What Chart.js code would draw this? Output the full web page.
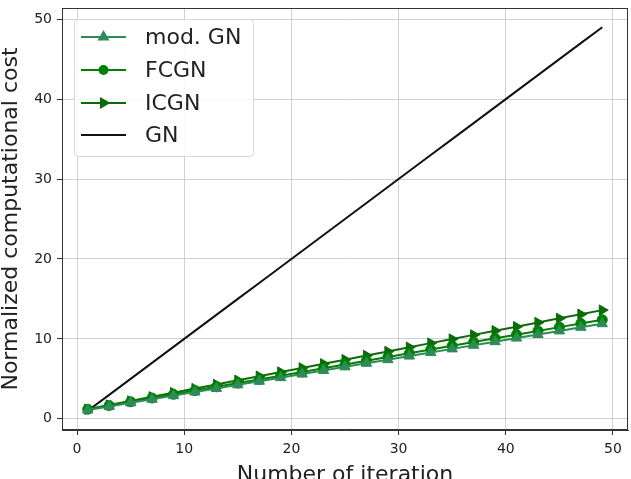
<!DOCTYPE html>
<html>
<head>
<meta charset="utf-8">
<script src="https://cdn.jsdelivr.net/npm/chart.js@4"></script>
<style>
	html, body { margin: 0; padding: 0; background: #fff; overflow: hidden; }
	#wrap { position: relative; width: 631px; height: 479px; }
</style>
</head>
<body>
<div id="wrap"><canvas id="chart"></canvas></div>
<script>
(function () {
	'use strict';

	// Iterations with markers (every other iteration).
	var ITERS = [1, 3, 5, 7, 9, 11, 13, 15, 17, 19, 21, 23, 25, 27, 29, 31, 33, 35, 37, 39, 41, 43, 45, 47, 49];

	// Normalized cost.
	var MOD_GN = [1.1, 1.55, 2.0, 2.45, 2.9, 3.35, 3.8, 4.25, 4.7, 5.15, 5.6, 6.05, 6.5, 6.95, 7.4, 7.85, 8.3, 8.75, 9.2, 9.65, 10.1, 10.55, 11.0, 11.45, 11.9];
	var FCGN   = [1.2, 1.67, 2.13, 2.6, 3.07, 3.53, 4.0, 4.47, 4.93, 5.4, 5.87, 6.33, 6.8, 7.27, 7.73, 8.2, 8.67, 9.13, 9.6, 10.07, 10.53, 11.0, 11.47, 11.93, 12.4];
	var ICGN   = [1.2, 1.72, 2.23, 2.75, 3.27, 3.78, 4.3, 4.82, 5.33, 5.85, 6.37, 6.88, 7.4, 7.92, 8.43, 8.95, 9.47, 9.98, 10.5, 11.02, 11.53, 12.05, 12.57, 13.08, 13.6];
	var GN     = [1, 3, 5, 7, 9, 11, 13, 15, 17, 19, 21, 23, 25, 27, 29, 31, 33, 35, 37, 39, 41, 43, 45, 47, 49];

	var X_TICKS = [0, 10, 20, 30, 40, 50];
	var Y_TICKS = [0, 10, 20, 30, 40, 50];

	var FONT = 'DejaVu Sans';

	function pts(ys) {
		return ITERS.map(function (x, i) { return { x: x, y: ys[i] }; });
	}

	var series = [
		{ label: 'mod. GN', data: MOD_GN, color: '#2e8b57', style: 'triangle', rot: 0, r: 6 },
		{ label: 'FCGN', data: FCGN, color: '#008000', style: 'circle', rot: 0, r: 5 },
		{ label: 'ICGN', data: ICGN, color: '#0b6b0b', style: 'triangle', rot: 90, r: 6 },
		{ label: 'GN', data: GN, color: '#111111', style: false, rot: 0, r: 0 }
	];

	var datasets = series.map(function (s) {
		return {
			label: s.label,
			data: pts(s.data),
			borderColor: s.color,
			backgroundColor: s.color,
			borderWidth: 2,
			pointStyle: s.style,
			pointRotation: s.rot,
			pointRadius: s.r,
			pointBorderWidth: 1,
			tension: 0
		};
	});

	// Frame round the plot area, like matplotlib spines.
	var framePlugin = {
		id: 'frame',
		afterDatasetsDraw: function (chart) {
			var a = chart.chartArea, c = chart.ctx;
			c.save();
			c.strokeStyle = '#333';
			c.lineWidth = 1;
			c.strokeRect(a.left + 0.5, a.top + 0.5, a.right - a.left - 1, a.bottom - a.top - 1);
			c.restore();
		}
	};

	// Legend box in the upper left corner of the plot.
	var legendPlugin = {
		id: 'boxLegend',
		afterDraw: function (chart) {
			var c = chart.ctx;
			var bx = 74, by = 19, bw = 179, bh = 137;
			c.save();
			c.fillStyle = 'rgba(255,255,255,0.85)';
			c.strokeStyle = '#d8d8d8';
			c.lineWidth = 1;
			c.beginPath();
			c.roundRect(bx + 0.5, by + 0.5, bw, bh, 4);
			c.fill();
			c.stroke();
			var rows = [37, 70, 103, 135];
			c.font = '22px ' + FONT;
			c.textBaseline = 'middle';
			series.forEach(function (s, i) {
				var y = rows[i];
				c.strokeStyle = s.color;
				c.lineWidth = 2;
				c.beginPath();
				c.moveTo(81, y);
				c.lineTo(126, y);
				c.stroke();
				if (s.style) {
					c.fillStyle = s.color;
					Chart.helpers.drawPoint(c, {
						pointStyle: s.style,
						rotation: s.rot,
						radius: s.r - 1,
						borderWidth: 1
					}, 103.5, y);
				}
				c.fillStyle = '#222';
				c.fillText(s.label, 145, y + 1);
			});
			c.restore();
		}
	};

	function tickSet(list) {
		return function (scale) {
			scale.ticks = list.map(function (v) { return { value: v }; });
		};
	}

	new Chart(document.getElementById('chart'), {
		type: 'line',
		data: { datasets: datasets },
		options: {
			responsive: true,
			maintainAspectRatio: false,
			animation: false,
			layout: { autoPadding: false, padding: { top: 8, right: 3, left: 0, bottom: 0 } },
			plugins: { legend: { display: false }, tooltip: { enabled: false } },
			scales: {
				x: {
					type: 'linear',
					min: -1.4,
					max: 51.4,
					afterBuildTicks: tickSet(X_TICKS),
					afterFit: function (s) { s.height = 49; s.paddingLeft = 0; s.paddingRight = 0; },
					grid: { color: '#d0d0d0', tickColor: '#333', tickLength: 5, lineWidth: 1 },
					border: { color: '#333' },
					ticks: { color: '#222', font: { family: FONT, size: 14 }, padding: 6 },
					title: { display: true, text: 'Number of iteration', color: '#222', font: { family: FONT, size: 22 }, padding: { top: 0, bottom: -9 } }
				},
				y: {
					type: 'linear',
					min: -1.4,
					max: 51.4,
					afterBuildTicks: tickSet(Y_TICKS),
					afterFit: function (s) { s.width = 62; s.paddingTop = 0; s.paddingBottom = 0; },
					grid: { color: '#d0d0d0', tickColor: '#333', tickLength: 5, lineWidth: 1 },
					border: { color: '#333' },
					ticks: { color: '#222', font: { family: FONT, size: 14 }, padding: 5 },
					title: { display: true, text: 'Normalized computational cost', color: '#222', font: { family: FONT, size: 22 }, padding: { top: -2, bottom: 0 } }
				}
			}
		},
		plugins: [framePlugin, legendPlugin]
	});
})();
</script>
</body>
</html>
